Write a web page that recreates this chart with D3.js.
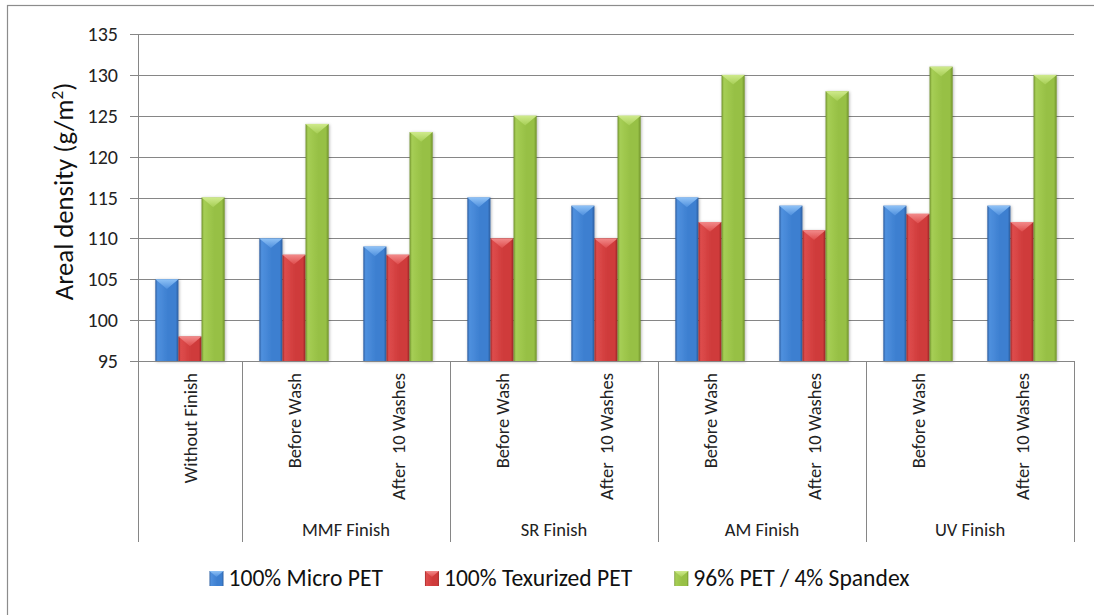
<!DOCTYPE html>
<html>
<head>
<meta charset="utf-8">
<script src="https://cdn.jsdelivr.net/npm/d3@7"></script>
<style>
  html, body { margin: 0; padding: 0; background: #ffffff; }
  svg { display: block; font-family: Carlito, Calibri, "Liberation Sans", Arial, sans-serif; }
</style>
</head>
<body>
<svg id="chart" width="1094" height="615"></svg>
<script>
// Category axis (first level) and its grouping (second level)
const categories = ["Without Finish", "Before Wash", "After  10 Washes", "Before Wash", "After  10 Washes",
                    "Before Wash", "After  10 Washes", "Before Wash", "After  10 Washes"];
const groupLabels = ["MMF Finish", "SR Finish", "AM Finish", "UV Finish"];
const groupFirst = [1, 3, 5, 7];   // index of the first category in each finish group
const groupSize = 2;

// Areal density (g/m²) per fabric
const seriesNames = ["100% Micro PET", "100% Texurized PET", "96% PET / 4% Spandex"];
const microPET    = [105, 110, 109, 115, 114, 115, 114, 114, 114];
const texurizedPET = [98, 108, 108, 110, 110, 112, 111, 113, 112];
const spandexPET  = [115, 124, 123, 125, 125, 130, 128, 131, 130];
const yTicks = [95, 100, 105, 110, 115, 120, 125, 130, 135];

const seriesValues = [microPET, texurizedPET, spandexPET];
const palette = [
  { dark: "#2b5d9f", main: "#3d7fd0", light: "#4f90de", top: "#8fc2f6" },
  { dark: "#9e2626", main: "#cf3b3b", light: "#de4c4c", top: "#f28a8a" },
  { dark: "#6f902b", main: "#97c045", light: "#a6ce55", top: "#cfea8c" }
];

const svg = d3.select("#chart");
const plot = { left: 138, right: 1074, top: 34, bottom: 361 };

const x0 = d3.scaleBand().domain(d3.range(categories.length)).range([plot.left, plot.right]).padding(0);
const x1 = d3.scaleBand().domain(d3.range(seriesNames.length)).range([0, x0.bandwidth()])
  .paddingInner(0).paddingOuter(0.75);
const y = d3.scaleLinear().domain([95, 135]).range([plot.bottom, plot.top]);

// Gradients and shadow
const defs = svg.append("defs");
palette.forEach((c, i) => {
  const g = defs.append("linearGradient").attr("id", "body" + i)
    .attr("x1", "0").attr("x2", "1").attr("y1", "0").attr("y2", "0");
  g.append("stop").attr("offset", "0%").attr("stop-color", c.dark);
  g.append("stop").attr("offset", "10%").attr("stop-color", c.light);
  g.append("stop").attr("offset", "55%").attr("stop-color", c.main);
  g.append("stop").attr("offset", "88%").attr("stop-color", c.main);
  g.append("stop").attr("offset", "100%").attr("stop-color", c.dark);
  const t = defs.append("linearGradient").attr("id", "cap" + i)
    .attr("x1", "0").attr("x2", "0").attr("y1", "0").attr("y2", "1");
  t.append("stop").attr("offset", "0%").attr("stop-color", c.top);
  t.append("stop").attr("offset", "100%").attr("stop-color", c.light);
});
const sh = defs.append("filter").attr("id", "shadow")
  .attr("x", "-30%").attr("y", "-10%").attr("width", "160%").attr("height", "120%");
sh.append("feDropShadow").attr("dx", 0.8).attr("dy", 0.8).attr("stdDeviation", 1.4)
  .attr("flood-color", "#000").attr("flood-opacity", 0.3);

// Chart area frame
svg.append("rect").attr("x", 7.5).attr("y", 5.5).attr("width", 1200).attr("height", 700)
  .attr("fill", "none").attr("stroke", "#8c8c8c").attr("stroke-width", 1.2);

// Horizontal gridlines with outward tick marks
svg.append("g").selectAll("line").data(yTicks).join("line")
  .attr("x1", plot.left - 8).attr("x2", plot.right)
  .attr("y1", d => Math.round(y(d)) + 0.5).attr("y2", d => Math.round(y(d)) + 0.5)
  .attr("stroke", "#868686").attr("stroke-width", 1.1);

// Value axis line
svg.append("line").attr("x1", plot.left + 0.5).attr("x2", plot.left + 0.5)
  .attr("y1", plot.top).attr("y2", plot.bottom)
  .attr("stroke", "#868686");

// Value axis labels
svg.append("g").selectAll("text").data(yTicks).join("text")
  .attr("x", 118).attr("y", d => y(d)).attr("dy", "0.35em")
  .attr("text-anchor", "end").attr("font-size", 20).attr("fill", "#222")
  .text(d => d);

// Value axis title
svg.append("text")
  .attr("transform", `translate(73,${(plot.top + plot.bottom) / 2 - 6}) rotate(-90)`)
  .attr("text-anchor", "middle").attr("font-size", 26.7).attr("fill", "#111")
  .html("Areal density (g/m<tspan dy='-10' font-size='17'>2</tspan><tspan dy='10'>)</tspan>");

// Bars
const bars = svg.append("g");
seriesValues.forEach((vals, s) => {
  const g = bars.append("g").attr("filter", "url(#shadow)");
  vals.forEach((v, i) => {
    const bx = x0(i) + x1(s);
    const bw = x1.bandwidth();
    const by = y(v);
    const bh = y(95) - by;
    g.append("rect").attr("x", bx).attr("y", by).attr("width", bw).attr("height", bh)
      .attr("fill", `url(#body${s})`);
    const depth = Math.min(bw * 0.42, bh);
    g.append("path")
      .attr("d", `M${bx},${by} L${bx + bw},${by} L${bx + bw / 2},${by + depth} Z`)
      .attr("fill", `url(#cap${s})`);
  });
});

// Category axis line and group separators
svg.append("line").attr("x1", plot.left).attr("x2", plot.right)
  .attr("y1", plot.bottom + 0.5).attr("y2", plot.bottom + 0.5)
  .attr("stroke", "#868686");
const separators = [0].concat(groupFirst, [categories.length]);
svg.append("g").selectAll("line").data(separators).join("line")
  .attr("x1", d => Math.round(d < categories.length ? x0(d) : plot.right) + 0.5)
  .attr("x2", d => Math.round(d < categories.length ? x0(d) : plot.right) + 0.5)
  .attr("y1", plot.bottom).attr("y2", 542)
  .attr("stroke", "#868686");

// First-level category labels (rotated)
svg.append("g").selectAll("text").data(categories).join("text")
  .attr("transform", (d, i) => `translate(${x0(i) + x0.bandwidth() / 2 + 6.5},373) rotate(-90)`)
  .attr("text-anchor", "end").attr("font-size", 18.5).attr("fill", "#222")
  .style("white-space", "pre")
  .text(d => d);

// Second-level group labels
svg.append("g").selectAll("text").data(groupLabels).join("text")
  .attr("x", (d, i) => (x0(groupFirst[i]) + x0(groupFirst[i] + groupSize - 1) + x0.bandwidth()) / 2)
  .attr("y", 536).attr("text-anchor", "middle").attr("font-size", 18.5).attr("fill", "#222")
  .text(d => d);

// Legend
const legend = svg.append("g");
const items = legend.selectAll("g").data(seriesNames).join("g");
items.append("rect").attr("width", 14).attr("height", 15).attr("y", -7)
  .attr("fill", (d, i) => `url(#body${i})`);
items.append("path").attr("d", "M0,-7 L14,-7 L7,-1 Z").attr("fill", (d, i) => `url(#cap${i})`);
items.append("text").attr("x", 19).attr("dy", "0.35em").attr("font-size", 23.6).attr("fill", "#111")
  .text(d => d);
let cursor = 0;
const offsets = [];
items.each(function (d, i) {
  offsets.push(cursor);
  const w = d3.select(this).select("text").node().getComputedTextLength();
  cursor += 19 + w + (i < seriesNames.length - 1 ? 42 : 0);
});
const legendStart = 559.5 - cursor / 2;
items.attr("transform", (d, i) => `translate(${legendStart + offsets[i]},578)`);
</script>
</body>
</html>
